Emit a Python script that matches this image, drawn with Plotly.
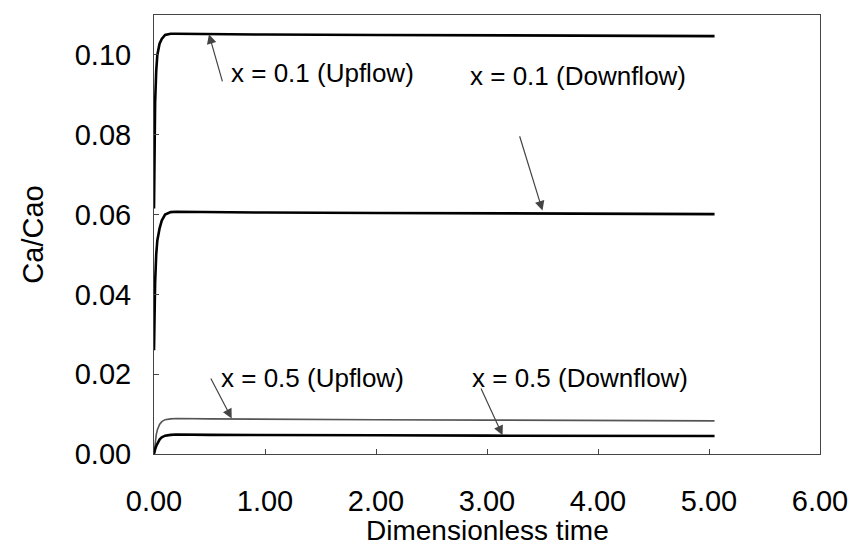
import plotly.graph_objects as go

# Dimensionless time samples
t = [0, 0.005, 0.01, 0.02, 0.03, 0.05, 0.07, 0.1, 0.15, 0.2, 0.5, 1.0, 2.0, 3.0, 4.0, 5.0, 5.05]

# x = 0.1 curves
up_01 = [0.0615, 0.075, 0.088, 0.096, 0.100, 0.1028, 0.1040, 0.1050, 0.1053, 0.1053, 0.1052,
         0.1051, 0.1050, 0.1049, 0.1048, 0.1047, 0.1047]
down_01 = [0.026, 0.036, 0.043, 0.050, 0.0535, 0.0565, 0.0585, 0.0600, 0.0606, 0.0607, 0.0606,
           0.0605, 0.0604, 0.0603, 0.0602, 0.0601, 0.0601]

# x = 0.5 curves
up_05 = [0.0, 0.0018, 0.0030, 0.0048, 0.0060, 0.0074, 0.0081, 0.0086, 0.0088, 0.0089, 0.0088,
         0.0087, 0.0086, 0.0085, 0.0084, 0.0083, 0.0083]
down_05 = [0.0, 0.0008, 0.0012, 0.0020, 0.0027, 0.0036, 0.0042, 0.0046, 0.0048, 0.0049, 0.0048,
           0.0048, 0.0047, 0.0046, 0.0045, 0.0045, 0.0045]

x_ticks = [0, 1, 2, 3, 4, 5, 6]
y_ticks = [0.00, 0.02, 0.04, 0.06, 0.08, 0.10]

# label text, text anchor (x, y), arrow tail (x, y), arrow head (x, y)
labels = ["x = 0.1 (Upflow)", "x = 0.1 (Downflow)", "x = 0.5 (Upflow)", "x = 0.5 (Downflow)"]
label_x = [0.68, 2.83, 0.59, 2.85]
label_y = [0.0955, 0.0948, 0.0190, 0.0190]
tail_x = [0.62, 3.29, 0.505, 2.94]
tail_y = [0.0930, 0.0800, 0.0193, 0.0168]
head_x = [0.495, 3.50, 0.70, 3.14]
head_y = [0.1052, 0.0610, 0.0089, 0.0047]

FONT = "Liberation Sans, Arial, sans-serif"

fig = go.Figure()
fig.add_trace(go.Scatter(x=t, y=up_01, mode="lines", line=dict(color="black", width=2.6),
                         name="x = 0.1 (Upflow)"))
fig.add_trace(go.Scatter(x=t, y=down_01, mode="lines", line=dict(color="black", width=2.6),
                         name="x = 0.1 (Downflow)"))
fig.add_trace(go.Scatter(x=t, y=up_05, mode="lines", line=dict(color="#555555", width=1.6),
                         name="x = 0.5 (Upflow)"))
fig.add_trace(go.Scatter(x=t, y=down_05, mode="lines", line=dict(color="black", width=2.6),
                         name="x = 0.5 (Downflow)"))

annotations = []
for i in range(len(labels)):
    annotations.append(dict(x=label_x[i], y=label_y[i], xref="x", yref="y", text=labels[i],
                            showarrow=False, xanchor="left", yanchor="middle",
                            font=dict(family=FONT, size=26, color="black")))
    annotations.append(dict(x=head_x[i], y=head_y[i], xref="x", yref="y",
                            ax=tail_x[i], ay=tail_y[i], axref="x", ayref="y", text="",
                            showarrow=True, arrowhead=2, arrowsize=1.6, arrowwidth=1.2,
                            arrowcolor="#444444"))
# x-axis title placed just under the tick labels
annotations.append(dict(x=0.5, y=-0.175, xref="paper", yref="paper", text="Dimensionless time",
                        showarrow=False, xanchor="center", yanchor="middle",
                        font=dict(family=FONT, size=28, color="black")))

fig.update_layout(
    width=860, height=545,
    margin=dict(l=154, r=40, t=15, b=91),
    paper_bgcolor="white", plot_bgcolor="white",
    showlegend=False,
    font=dict(family=FONT, size=29, color="black"),
    annotations=annotations,
)
fig.update_xaxes(range=[0, 6], tickvals=x_ticks, tickformat=".2f",
                 showgrid=False, zeroline=False, showline=True, linecolor="#444444", linewidth=1,
                 mirror=True, ticks="inside", ticklen=5, tickcolor="#444444",
                 ticklabelstandoff=21)
fig.update_yaxes(range=[0, 0.11], tickvals=y_ticks, tickformat=".2f",
                 showgrid=False, zeroline=False, showline=True, linecolor="#444444", linewidth=1,
                 mirror=True, ticks="inside", ticklen=5, tickcolor="#444444",
                 ticklabelstandoff=16,
                 title=dict(text="Ca/Cao", font=dict(size=29), standoff=22))

fig.write_html("out.html")
